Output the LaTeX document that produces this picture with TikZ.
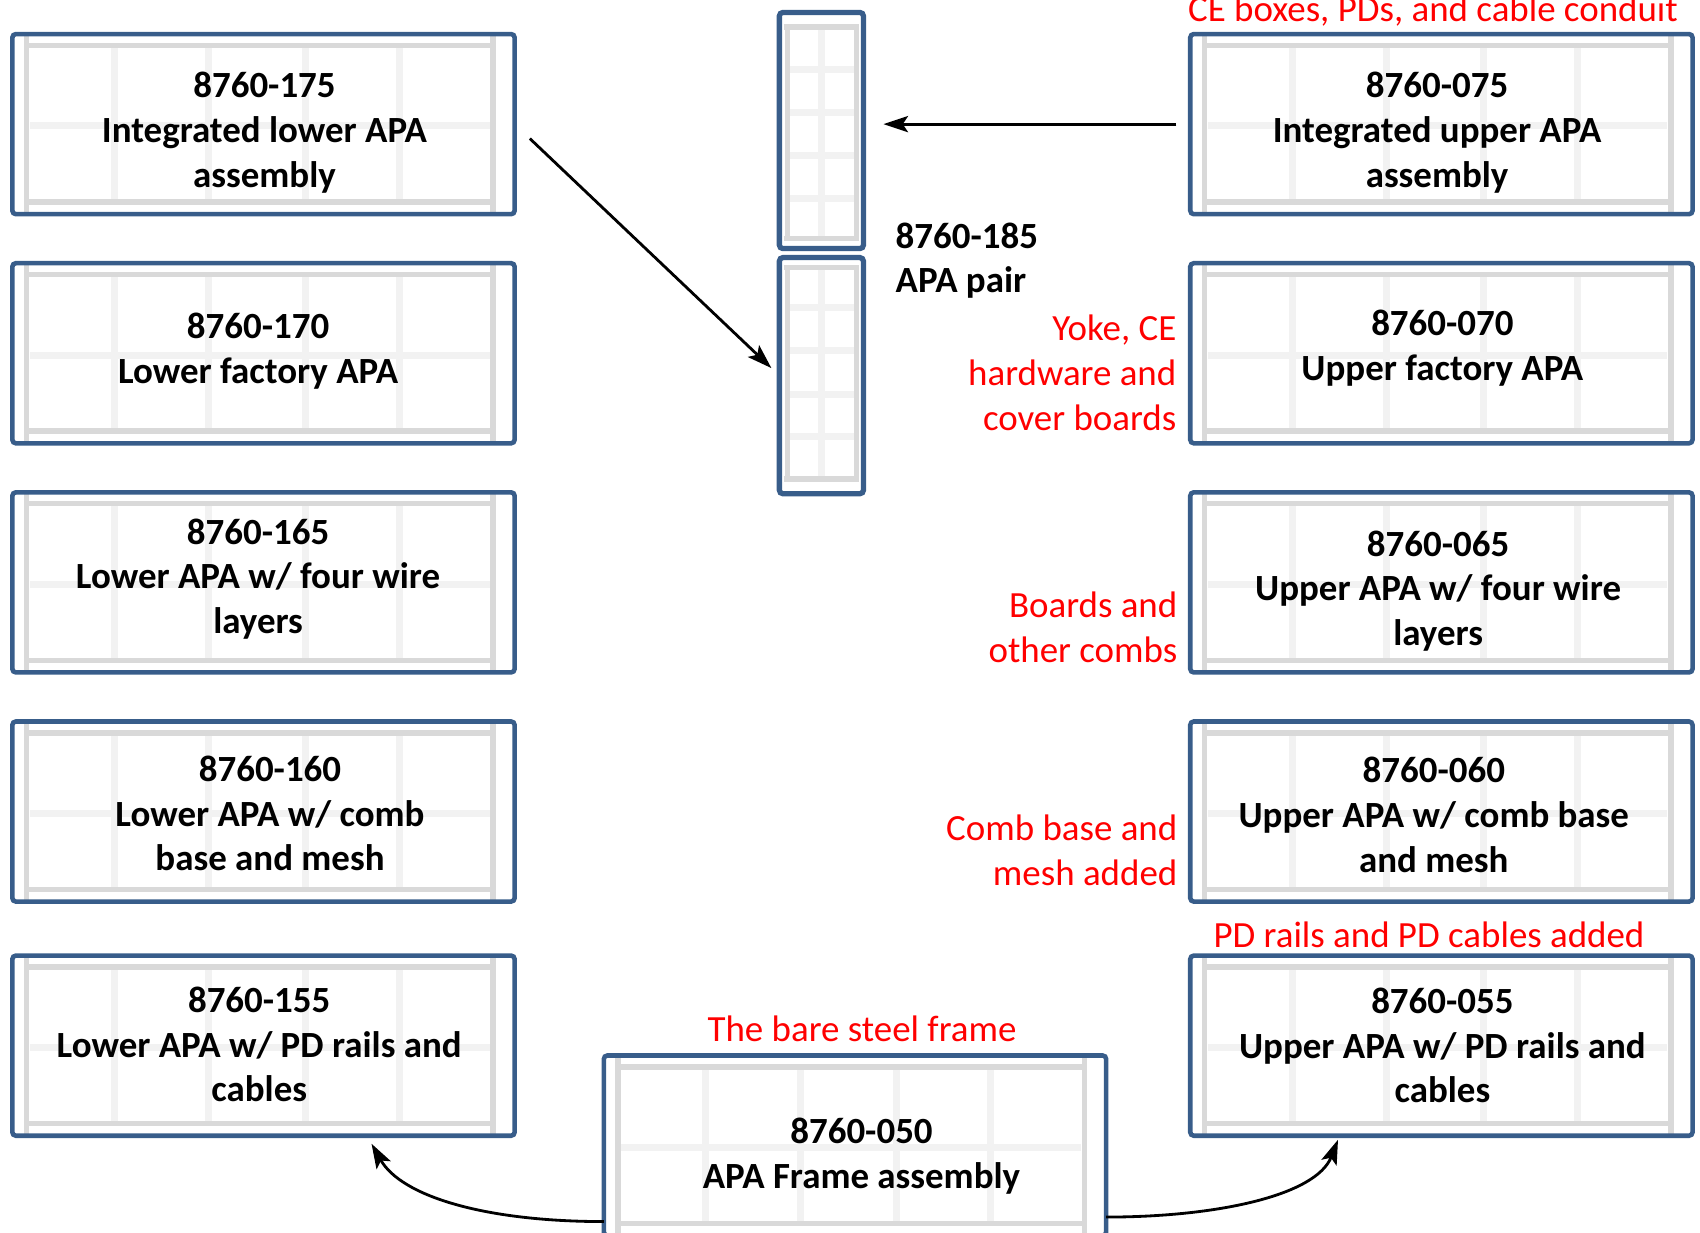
\documentclass[tikz,border=0pt]{standalone}
\usepackage{fontspec}
\setmainfont{Carlito}
\usetikzlibrary{arrows.meta}
\usetikzlibrary{calc}
\usetikzlibrary{positioning}
\usetikzlibrary{backgrounds}
\definecolor{apablue}{RGB}{56,93,138}
\definecolor{framegrey}{RGB}{217,217,217}
\definecolor{ribgrey}{RGB}{242,242,242}
\tikzset{>={Stealth[length=7pt,width=4.6pt,inset=1.5pt]}}
\tikzset{
    barline/.style={framegrey, line width=1.5pt},
    ribline/.style={ribgrey, line width=2pt},
    widegrid/.pic={
        \draw[ribline] (0.203,0.07) -- (0.203,0.93) (0.391,0.07) -- (0.391,0.93)
            (0.583,0.07) -- (0.583,0.93) (0.77,0.07) -- (0.77,0.93);
        \draw[ribline] (0.035,0.51) -- (0.95,0.51);
        \draw[barline] (0.028,0) -- (0.028,1) (0.957,0) -- (0.957,1)
            (0.028,0.064) -- (0.957,0.064) (0.028,0.932) -- (0.957,0.932);
    },
    pairgrid/.pic={
        \draw[ribline] (0.5,0.07) -- (0.5,0.95);
        \draw[ribline] (0.1,0.242) -- (0.9,0.242) (0.1,0.422) -- (0.9,0.422)
            (0.1,0.605) -- (0.9,0.605) (0.1,0.789) -- (0.9,0.789);
        \draw[barline] (0.05,0.062) -- (0.95,0.062) (0.05,0.958) -- (0.95,0.958)
            (0.093,0.062) -- (0.093,0.958) (0.914,0.062) -- (0.914,0.958);
    }
}

\begin{document}
\begin{tikzpicture}[
        x=0.01cm, y=-0.01cm,
        node distance=4.9mm,
        apabox/.style={draw=apablue, line width=1.3pt, rounded corners=1pt, outer sep=0pt,
            minimum width=5.02cm, minimum height=1.80cm, inner sep=0pt},
        pairbox/.style={draw=apablue, line width=1.5pt, rounded corners=1pt, outer sep=0pt,
            minimum width=0.84cm, minimum height=2.36cm, inner sep=0pt},
        boxtext/.style={align=center, inner sep=0pt, font=\bfseries\fontsize{10.5}{12.7}\selectfont},
        redlbl/.style={red, inner sep=0pt, font=\fontsize{10.5}{12.8}\selectfont},
        arrowline/.style={->, line width=0.8pt}
    ]
    \useasboundingbox (0,0) rectangle (1700,1232);

    % lower APA column
    \node[apabox] (l175) at (263.5,124.1) {};
    \node[apabox, below=of l175] (l170) {};
    \node[apabox, below=of l170] (l165) {};
    \node[apabox, below=of l165] (l160) {};
    \node[apabox, below=5.4mm of l160] (l155) {};

    % upper APA column
    \node[apabox] (r075) at (1441.4,124.1) {};
    \node[apabox, below=of r075] (r070) {};
    \node[apabox, below=of r070] (r065) {};
    \node[apabox, below=of r065] (r060) {};
    \node[apabox, below=5.4mm of r060] (r055) {};

    % bare frame
    \node[apabox] (f050) at (855,1145.5) {};

    % APA pair
    \node[pairbox] (pairup) at (821.4,130.5) {};
    \node[pairbox, below=0.9mm of pairup] (pairlo) {};

    \begin{scope}[on background layer]
        \foreach \b in {l175,l170,l165,l160,l155,r075,r070,r065,r060,r055,f050}
            \pic[x=5.02cm, y=-1.80cm] at (\b.north west) {widegrid};
        \pic[x=0.84cm, y=-2.36cm] at (pairup.north west) {pairgrid};
        \pic[x=0.84cm, y=2.36cm] at (pairlo.south west) {pairgrid};
    \end{scope}

    % box texts
    \node[boxtext] (l175t) at ($(l175)+(1,8.7)$) {8760-175\\Integrated lower APA\\assembly};
    \node[boxtext] (l170t) at ($(l170)+(-5.4,-2.2)$) {8760-170\\Lower factory APA};
    \node[boxtext] (l165t) at ($(l165)+(-5.4,-3.3)$) {8760-165\\Lower APA w/ four wire\\layers};
    \node[boxtext] (l160t) at ($(l160)+(6.5,2.2)$) {8760-160\\Lower APA w/ comb\\base and mesh};
    \node[boxtext] (l155t) at ($(l155)+(-4.3,-1.1)$) {8760-155\\Lower APA w/ PD rails and\\cables};
    \node[boxtext] (r075t) at ($(r075)+(-4.3,8.7)$) {8760-075\\Integrated upper APA\\assembly};
    \node[boxtext] (r070t) at ($(r070)+(1,-5.4)$) {8760-070\\Upper factory APA};
    \node[boxtext] (r065t) at ($(r065)+(-3.3,8.7)$) {8760-065\\Upper APA w/ four wire\\layers};
    \node[boxtext] (r060t) at ($(r060)+(-7.6,3.3)$) {8760-060\\Upper APA w/ comb base\\and mesh};
    \node[boxtext] (r055t) at ($(r055)+(1,0)$) {8760-055\\Upper APA w/ PD rails and\\cables};
    \node[boxtext] (f050t) at ($(f050)+(6.5,10.8)$) {8760-050\\APA Frame assembly};
    \node[boxtext, anchor=west, align=left] (lblpair) at (895,260.5) {8760-185\\APA pair};

    % red notes
    \node[redlbl] (lblce) at (1433,11.5) {CE boxes, PDs, and cable conduit};
    \node[redlbl, anchor=east, align=right] (lblyoke) at (1177,373) {Yoke, CE\\hardware and\\cover boards};
    \node[redlbl, anchor=east, align=right] (lblboards) at (1178,627) {Boards and\\other combs};
    \node[redlbl, anchor=east, align=right] (lblcomb) at (1178,850) {Comb base and\\mesh added};
    \node[redlbl] (lblpd) at (1429,935) {PD rails and PD cables added};
    \node[redlbl] (lblbare) at (862,1029) {The bare steel frame};

    % arrows
    \draw[arrowline, shorten <=1.4mm, shorten >=2mm] (r075.west) -- (r075.west -| pairup.east);
    \draw[arrowline, shorten <=2.1mm, shorten >=1.1mm] (l175.east) -- (pairlo.west);
    \draw[arrowline] ([yshift=1.4mm]f050.south west) .. controls +(-118,0) and +(30,53) .. ($(l155.south)+(108,8)$);
    \draw[arrowline] ([yshift=1.85mm]f050.south east) .. controls +(110,0) and +(-22,56) .. ($(r055.south)+(-103.4,4)$);
\end{tikzpicture}
\end{document}
